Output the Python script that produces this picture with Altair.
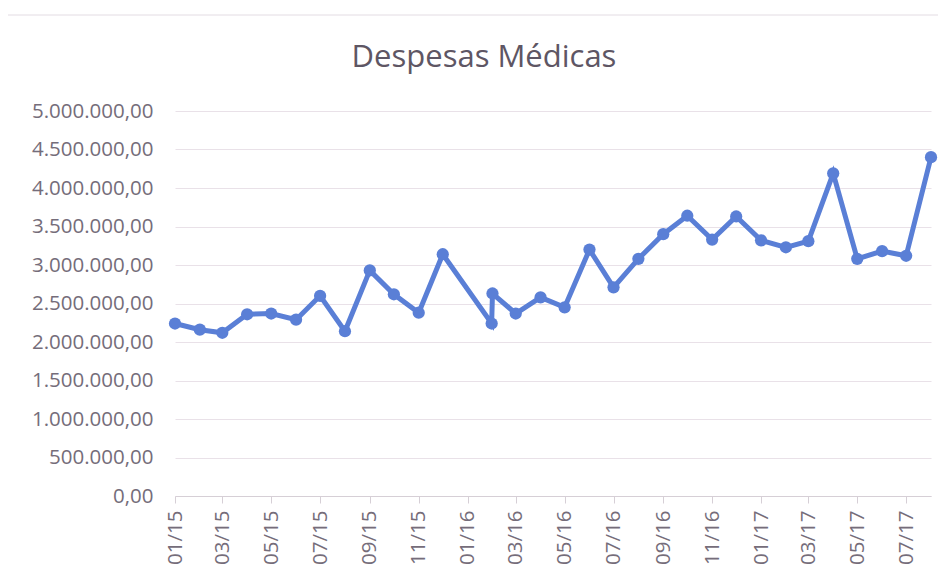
import altair as alt
import pandas as pd

# Data
dates = [
    "2015-01-01", "2015-02-01", "2015-03-01", "2015-04-01", "2015-05-01", "2015-06-01",
    "2015-07-01", "2015-08-01", "2015-09-01", "2015-10-01", "2015-11-01", "2015-12-01",
    "2016-01-31", "2016-02-01", "2016-03-01", "2016-04-01", "2016-05-01", "2016-06-01",
    "2016-07-01", "2016-08-01", "2016-09-01", "2016-10-01", "2016-11-01", "2016-12-01",
    "2017-01-01", "2017-02-01", "2017-03-01", "2017-04-01", "2017-05-01", "2017-06-01",
    "2017-07-01", "2017-08-01",
]
values = [
    2240000, 2160000, 2120000, 2360000, 2370000, 2290000,
    2600000, 2140000, 2930000, 2620000, 2380000, 3140000,
    2240000, 2630000, 2370000, 2580000, 2450000, 3200000,
    2710000, 3080000, 3400000, 3640000, 3330000, 3630000,
    3320000, 3230000, 3310000, 4190000, 3080000, 3180000,
    3120000, 4400000,
]
y_ticks = [0, 500000, 1000000, 1500000, 2000000, 2500000, 3000000,
           3500000, 4000000, 4500000, 5000000]
x_tick_months = [(2015, 1), (2015, 3), (2015, 5), (2015, 7), (2015, 9), (2015, 11),
                 (2016, 1), (2016, 3), (2016, 5), (2016, 7), (2016, 9), (2016, 11),
                 (2017, 1), (2017, 3), (2017, 5), (2017, 7)]
title_text = "Despesas Médicas"

df = pd.DataFrame({"data": [d + "T00:00:00" for d in dates], "valor": values})

LINE = "#5a7fd6"
TXT = "#756d7a"
FONT = "Open Sans"

x_enc = alt.X(
    "data:T",
    scale=alt.Scale(domain=[alt.DateTime(year=2015, month=1, date=1),
                            alt.DateTime(year=2017, month=8, date=1)]),
    axis=alt.Axis(
        title=None,
        values=[alt.DateTime(year=y, month=m, date=1) for y, m in x_tick_months],
        format="%m/%y",
        labelAngle=-90,
        labelFontSize=20.5,
        labelColor=TXT,
        labelFont=FONT,
        labelPadding=7,
        tickSize=7,
        tickColor="#d6cfd6",
        domainColor="#d6cfd6",
        grid=False,
        labelOverlap=False,
    ),
)
y_enc = alt.Y(
    "valor:Q",
    scale=alt.Scale(domain=[0, 5000000]),
    axis=alt.Axis(
        title=None,
        values=y_ticks,
        labelExpr="replace(replace(replace(format(datum.value, ',.2f'), regexp(',', 'g'), '#'), regexp('[.]', 'g'), ','), regexp('#', 'g'), '.')",
        labelFontSize=20.5,
        labelColor=TXT,
        labelFont=FONT,
        labelPadding=22,
        ticks=False,
        domain=False,
        gridColor="#e9e1e8",
        gridWidth=1,
    ),
)

base = alt.Chart(df)
line = base.mark_line(color=LINE, strokeWidth=5).encode(x=x_enc, y=y_enc)
pts = base.mark_circle(color=LINE, size=150, opacity=1).encode(x=x_enc, y=y_enc)

deco = alt.Chart(pd.DataFrame({"t": [title_text]}))
border = deco.mark_rect(
    fillOpacity=0, stroke="#e3dce3", strokeWidth=1
).encode(x=alt.value(-171), x2=alt.value(800), y=alt.value(-96), y2=alt.value(500))
title = deco.mark_text(
    font=FONT, fontSize=31, color="#5e5664", align="center", baseline="alphabetic"
).encode(text="t:N", x=alt.value(309), y=alt.value(-44))

chart = alt.layer(border, title, line, pts).properties(
    width=756,
    height=385,
    autosize=alt.AutoSizeParams(type="none"),
    padding={"left": 167, "top": 103, "right": 7, "bottom": 73},
).configure_view(stroke=None)

chart.save("out.html", embed_options={"renderer": "svg", "actions": False})
